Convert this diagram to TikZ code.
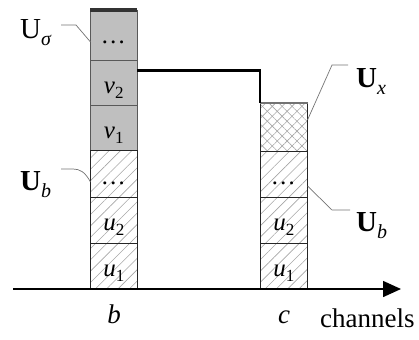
\documentclass[tikz,border=0pt]{standalone}
\usepackage{fontspec}
\setmainfont{Liberation Serif}
\usetikzlibrary{patterns.meta,arrows.meta}
\newcommand\celltxt[2]{\textit{#1}\raisebox{-5pt}{\fontsize{17}{18}\selectfont #2}}
\newcommand\ulab[3]{{#1U}\raisebox{-7pt}{\fontsize{20}{22}\selectfont\itshape #3}}
\begin{document}
\begin{tikzpicture}[x=1pt,y=-1pt,
  gcell/.style={draw=black!65, line width=0.9pt, fill=black!25},
  hcell/.style={draw=black!85, line width=0.9pt, pattern={Lines[angle=45,distance=8pt,line width=0.6pt]}, pattern color=black!35},
  xa/.style={pattern={Lines[angle=45,distance=7pt,line width=0.6pt]}, pattern color=black!35},
  xb/.style={pattern={Lines[angle=-45,distance=7pt,line width=0.6pt]}, pattern color=black!35},
  ctext/.style={anchor=base, inner sep=0pt, font=\fontsize{25}{27}\selectfont},
  ulabel/.style={anchor=base west, inner sep=0pt, font=\fontsize{29}{31}\selectfont},
  leader/.style={draw=black!55, line width=0.7pt},
  axlabel/.style={anchor=base, inner sep=0pt, font=\fontsize{27}{29}\selectfont}
]
\useasboundingbox (0,0) rectangle (419,339);
% left column: gray cells
\draw[gcell] (90.5,10) rectangle (137,60);
\draw[gcell] (90.5,60) rectangle (137,105);
\draw[gcell] (90.5,105) rectangle (137,150);
% left column: hatched cells
\draw[hcell] (90.5,150) rectangle (137,197);
\draw[hcell] (90.5,197) rectangle (137,243);
\draw[hcell] (90.5,243) rectangle (137,289);
\draw[black!85, line width=1pt] (90.5,150) -- (137,150);
\draw[black!80, line width=3.5pt] (90.2,10) -- (137.3,10);
% right column
\fill[xa] (260,103) rectangle (307.5,151);
\fill[xb] (260,103) rectangle (307.5,151);
\draw[black!85, line width=0.9pt] (260,103) rectangle (307.5,151);
\draw[hcell] (260,151) rectangle (307.5,197);
\draw[hcell] (260,197) rectangle (307.5,243);
\draw[hcell] (260,243) rectangle (307.5,289);
\draw[black!55, line width=2.5pt] (260,103) -- (307.5,103);
% connecting thick line
\coordinate (t0) at (137,71);
\coordinate (t1) at (260,71);
\coordinate (t2) at (260,103);
\draw[line width=3pt] (t0) -- ([xshift=0.75pt]t1);
\draw[line width=1.5pt] ([yshift=-1pt]t1) -- (t2);
% cell texts
\node[ctext] (c1) at (113.75,44) {\textit{…}};
\node[ctext] (c2) at (113.75,94) {\celltxt{v}{2}};
\node[ctext] (c3) at (113.75,139) {\celltxt{v}{1}};
\node[ctext] (c4) at (113.75,184) {\textit{…}};
\node[ctext] (c5) at (113.75,230) {\celltxt{u}{2}};
\node[ctext] (c6) at (113.75,276) {\celltxt{u}{1}};
\node[ctext] (d4) at (283.75,184) {\textit{…}};
\node[ctext] (d5) at (283.75,230) {\celltxt{u}{2}};
\node[ctext] (d6) at (283.75,276) {\celltxt{u}{1}};
% axis
\coordinate (ax0) at (13,289);
\coordinate (ax1) at (401,289);
\draw[line width=1.5pt, -{Triangle[length=18pt,width=16pt]}] (ax0) -- (ax1);
\node[axlabel] (lb) at (114,323) {\textit{b}};
\node[axlabel] (lc) at (284,323) {\textit{c}};
\node[axlabel, anchor=base west] (lch) at (320,327) {channels};
% side labels
\node[ulabel] (us) at (20,39) {\ulab{}{}{σ}};
\node[ulabel] (ub1) at (20,190) {\ulab{\bfseries}{}{b}};
\node[ulabel] (ux) at (356,88) {\ulab{\bfseries}{}{x}};
\node[ulabel] (ub2) at (356,231) {\ulab{\bfseries}{}{b}};
% leader lines
\coordinate (ps) at (90.5,42);
\coordinate (pb1) at (90.5,182);
\coordinate (px) at (307.5,120);
\coordinate (pb2) at (307.5,186);
\draw[leader] (61,25) -- (76,25) -- (ps);
\draw[leader] (61,169) -- (73,169) .. controls (80,169) and (85,172) .. (pb1);
\draw[leader] (348,65) -- (332,65) -- (px);
\draw[leader] (pb2) -- (332,210) -- (350,210);
\end{tikzpicture}
\end{document}
